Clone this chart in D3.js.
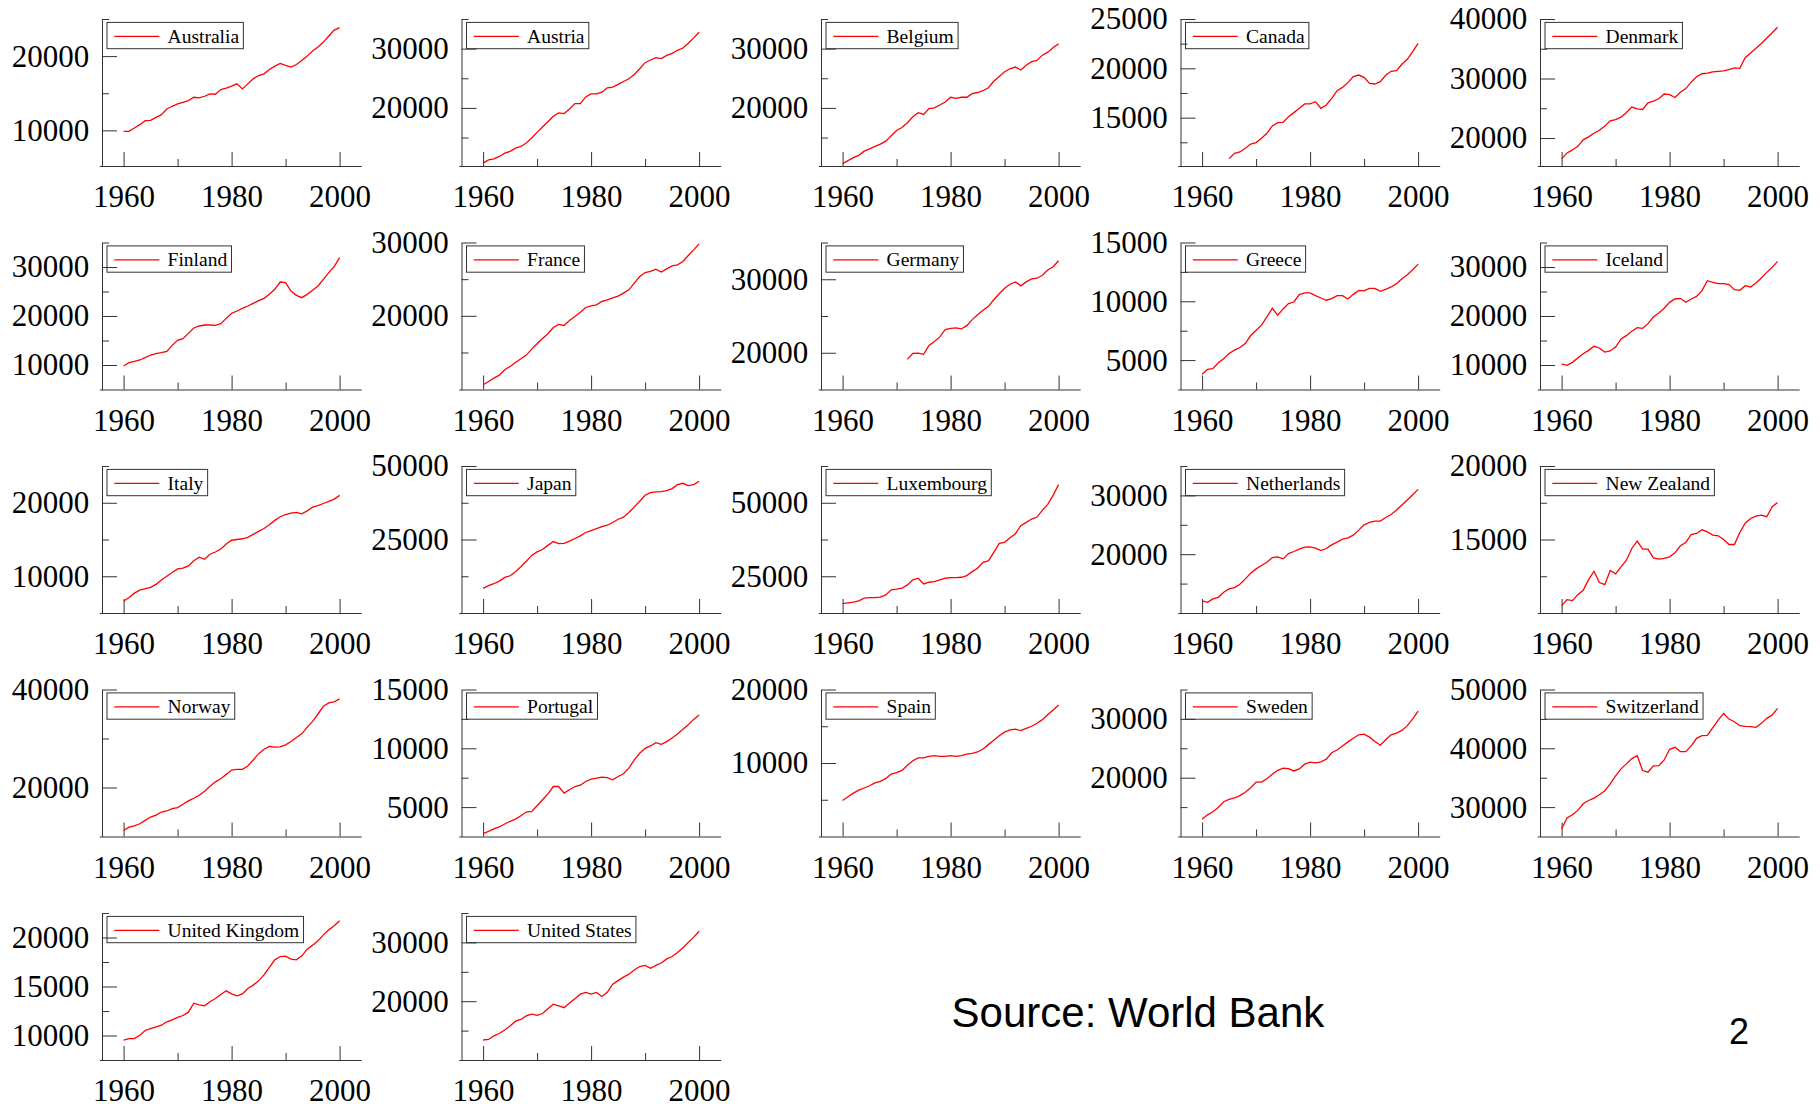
<!DOCTYPE html>
<html lang="en">
<head>
<meta charset="utf-8">
<script src="https://d3js.org/d3.v7.min.js"></script>
<style>
  body { margin: 0; background: #fff; }
  svg { display: block; }
  .series { fill: none; stroke: #ff0000; stroke-width: 1.3px; }
  .tick text { font-family: "Liberation Serif", "Times New Roman", serif; font-size: 31px; fill: #000; }
  .legend text { font-family: "Liberation Serif", "Times New Roman", serif; font-size: 19.5px; fill: #000; }
  .note { font-family: "Liberation Sans", Arial, sans-serif; fill: #000; }
</style>
</head>
<body>
<svg id="chart" width="1820" height="1104"></svg>
<script>
// data: GDP per capita
var years = [1960, 1961, 1962, 1963, 1964, 1965, 1966, 1967, 1968, 1969,
             1970, 1971, 1972, 1973, 1974, 1975, 1976, 1977, 1978, 1979,
             1980, 1981, 1982, 1983, 1984, 1985, 1986, 1987, 1988, 1989,
             1990, 1991, 1992, 1993, 1994, 1995, 1996, 1997, 1998, 1999, 2000];

var countries = ["Australia", "Austria", "Belgium", "Canada", "Denmark",
                 "Finland", "France", "Germany", "Greece", "Iceland",
                 "Italy", "Japan", "Luxembourg", "Netherlands", "New Zealand",
                 "Norway", "Portugal", "Spain", "Sweden", "Switzerland",
                 "United Kingdom", "United States"];

var australia = [9865, 9865, 10315, 10766, 11306, 11351, 11757, 12117, 12883, 13243,
                 13559, 13784, 14009, 14459, 14369, 14595, 14910, 14865, 15495, 15676,
                 15946, 16261, 15586, 16261, 16937, 17387, 17613, 18198, 18649, 19009,
                 18739, 18514, 18874, 19414, 20000, 20676, 21216, 21892, 22703, 23514, 23829];
var austria = [10680, 11240, 11410, 11810, 12370, 12660, 13220, 13500, 14070, 14920,
               15880, 16780, 17680, 18590, 19150, 19040, 19830, 20730, 20730, 21860,
               22370, 22370, 22660, 23390, 23500, 23960, 24460, 24920, 25650, 26610,
               27630, 28080, 28480, 28310, 28870, 29210, 29720, 30110, 30900, 31810, 32770];
var belgium = [10600, 11100, 11600, 12000, 12700, 13100, 13500, 13900, 14400, 15300,
               16200, 16700, 17500, 18500, 19200, 18900, 19900, 20000, 20500, 21000,
               21800, 21600, 21800, 21800, 22400, 22600, 22900, 23400, 24500, 25300,
               26100, 26600, 26900, 26400, 27200, 27800, 28000, 28900, 29400, 30200, 30800];
var canada = [null, null, null, null, null, 10850, 11390, 11520, 11890, 12330,
              12470, 12910, 13410, 14160, 14490, 14530, 15100, 15510, 15950, 16390,
              16390, 16620, 15950, 16280, 16960, 17740, 18070, 18550, 19160, 19320,
              19090, 18480, 18410, 18650, 19290, 19700, 19760, 20410, 20910, 21690, 22530];
var denmark = [16500, 17500, 18000, 18600, 19700, 20200, 20800, 21300, 22000, 22900,
               23100, 23500, 24300, 25200, 24900, 24800, 25900, 26200, 26600, 27400,
               27300, 26800, 27700, 28300, 29400, 30300, 30800, 30900, 31100, 31200,
               31300, 31500, 31800, 31700, 33500, 34300, 35100, 35900, 36800, 37700, 38600];
var finland = [9800, 10480, 10750, 11020, 11500, 12040, 12310, 12520, 12790, 14010,
               15030, 15370, 16460, 17550, 17960, 18160, 18160, 18100, 18440, 19520,
               20540, 21020, 21570, 22040, 22590, 23130, 23610, 24420, 25440, 26940,
               26800, 25100, 24220, 23740, 24420, 25240, 26120, 27480, 28840, 30070, 31910];
var france = [10590, 11050, 11500, 11910, 12640, 13090, 13640, 14140, 14640, 15460,
              16180, 16910, 17550, 18410, 18820, 18680, 19360, 19910, 20500, 21140,
              21360, 21500, 21960, 22180, 22460, 22680, 23090, 23550, 24460, 25360,
              25910, 26050, 26360, 25960, 26410, 26820, 26960, 27410, 28230, 29000, 29820];
var germany = [null, null, null, null, null, null, null, null, null, null,
               null, null, 19100, 19910, 19960, 19780, 20990, 21530, 22160, 23150,
               23330, 23380, 23240, 23690, 24510, 25180, 25770, 26310, 27210, 28020,
               28780, 29320, 29640, 29100, 29640, 30050, 30140, 30540, 31260, 31710, 32520];
var greece = [3790, 4210, 4270, 4770, 5110, 5570, 5850, 6070, 6410, 7090,
              7540, 7970, 8670, 9410, 8810, 9350, 9800, 9940, 10570, 10710,
              10710, 10480, 10280, 10090, 10230, 10480, 10480, 10200, 10590, 10930,
              10880, 11100, 11100, 10850, 11020, 11220, 11500, 11920, 12260, 12680, 13160];
var iceland = [10200, 9930, 10540, 11430, 12310, 12990, 13810, 13470, 12650, 12860,
               13670, 15310, 15990, 16870, 17620, 17480, 18440, 19800, 20610, 21570,
               22790, 23470, 23610, 22790, 23470, 24010, 25170, 27210, 26870, 26600,
               26600, 26400, 25370, 25240, 26190, 25920, 26740, 27760, 28910, 29930, 31160];
var italy = [6600, 7100, 7700, 8100, 8300, 8500, 8900, 9500, 10000, 10500,
             11000, 11100, 11400, 12100, 12600, 12300, 13000, 13300, 13700, 14400,
             14900, 15000, 15100, 15300, 15700, 16100, 16500, 17000, 17600, 18100,
             18400, 18600, 18700, 18500, 18900, 19400, 19600, 19900, 20200, 20500, 21000];
var japan = [8370, 9280, 9960, 10860, 12100, 12670, 14030, 15720, 17600, 19600,
             20800, 21600, 23000, 24300, 23600, 23700, 24430, 25340, 26240, 27380,
             28050, 28730, 29410, 29860, 30770, 31900, 32580, 34160, 36090, 38010,
             40050, 40950, 41180, 41290, 41630, 42310, 43670, 44120, 43330, 43670, 44800];
var luxembourg = [15720, 15950, 16180, 16630, 17530, 17760, 17760, 17870, 18670, 20360,
                  20590, 20930, 22060, 23760, 24320, 22400, 22960, 23190, 23760, 24320,
                  24550, 24550, 24660, 25230, 26580, 27720, 29750, 30200, 33150, 36200,
                  36540, 38120, 39480, 42200, 43330, 44460, 45140, 47510, 49430, 52600, 56220];
var netherlands = [12050, 11820, 12390, 12670, 13520, 14090, 14320, 14890, 15800, 16760,
                   17500, 18070, 18640, 19430, 19550, 19210, 20110, 20460, 20850, 21190,
                   21250, 21020, 20630, 20970, 21590, 22050, 22560, 22780, 23240, 24090,
                   25000, 25400, 25630, 25630, 26250, 26760, 27500, 28350, 29210, 30110, 31020];
var newZealand = [10480, 10910, 10840, 11250, 11550, 12270, 12840, 12070, 11930, 12890,
                  12660, 13140, 13590, 14390, 14890, 14340, 14340, 13750, 13660, 13710,
                  13820, 14090, 14570, 14800, 15340, 15410, 15660, 15520, 15300, 15250,
                  15000, 14660, 14660, 15480, 16110, 16430, 16590, 16660, 16550, 17230, 17520];
var norway = [11230, 11920, 12190, 12600, 13290, 13970, 14380, 15000, 15210, 15690,
              15890, 16580, 17260, 17810, 18430, 19250, 20270, 21160, 21780, 22670,
              23560, 23700, 23700, 24380, 25620, 26850, 27810, 28360, 28220, 28290,
              28700, 29380, 30210, 30960, 32330, 33490, 35000, 36580, 37260, 37470, 38080];
var portugal = [2740, 2940, 3140, 3310, 3560, 3790, 3980, 4270, 4580, 4630,
                5110, 5620, 6130, 6750, 6750, 6190, 6470, 6750, 6860, 7180,
                7370, 7460, 7540, 7510, 7320, 7600, 7830, 8310, 9010, 9580,
                10000, 10200, 10480, 10340, 10570, 10880, 11220, 11610, 12010, 12460, 12830];
var spain = [4900, 5400, 5900, 6300, 6600, 6900, 7300, 7500, 7900, 8500,
             8700, 9000, 9700, 10300, 10700, 10700, 10900, 11000, 10900, 10900,
             11000, 10900, 11000, 11200, 11300, 11500, 11900, 12500, 13100, 13700,
             14200, 14500, 14600, 14400, 14700, 15000, 15400, 15900, 16600, 17200, 17900];
var sweden = [12930, 13680, 14200, 14940, 15920, 16320, 16550, 16950, 17530, 18280,
              19250, 19250, 19830, 20580, 21260, 21610, 21550, 21150, 21490, 22300,
              22640, 22530, 22700, 23160, 24250, 24710, 25400, 26090, 26720, 27300,
              27410, 26900, 26150, 25520, 26440, 27300, 27590, 28050, 28850, 30000, 31320];
var switzerland = [26270, 28140, 28700, 29440, 30570, 31130, 31530, 32090, 32770, 33960,
                   35310, 36500, 37350, 38250, 38760, 36220, 35930, 37010, 37060, 38020,
                   39830, 40170, 39440, 39440, 40400, 41700, 42150, 42200, 43500, 44800,
                   45930, 44970, 44520, 43840, 43730, 43670, 43560, 44240, 45090, 45650, 46780];
var unitedKingdom = [9520, 9690, 9690, 10030, 10510, 10710, 10880, 11050, 11400, 11600,
                     11840, 12040, 12380, 13300, 13130, 13030, 13440, 13780, 14180, 14560,
                     14250, 14050, 14250, 14800, 15140, 15580, 16190, 16940, 17720, 18060,
                     18100, 17790, 17720, 18130, 18810, 19220, 19660, 20270, 20780, 21190, 21700];
var unitedStates = [13400, 13500, 14100, 14500, 15100, 15800, 16600, 16900, 17500, 17800,
                    17600, 17900, 18700, 19500, 19200, 18900, 19700, 20400, 21200, 21500,
                    21200, 21500, 20800, 21500, 22900, 23500, 24100, 24600, 25300, 25900,
                    26100, 25600, 26100, 26500, 27200, 27600, 28300, 29100, 30000, 30900, 31900];

var seriesValues = [australia, austria, belgium, canada, denmark,
                    finland, france, germany, greece, iceland,
                    italy, japan, luxembourg, netherlands, newZealand,
                    norway, portugal, spain, sweden, switzerland,
                    unitedKingdom, unitedStates];

// y axis range of each panel
var yDomains = [[5200, 25000], [10200, 35000], [10200, 35000], [10100, 25000], [15300, 40000],
                [5000, 35000], [9950, 30000], [15000, 35000], [2500, 15000], [5000, 35000],
                [5000, 25000], [0, 50000], [12500, 62500], [10000, 35000], [10000, 20000],
                [10000, 40000], [2500, 15000], [0, 20000], [10000, 35000], [25000, 50000],
                [7500, 22500], [10000, 35000]];
// labelled ticks
var majorTicks = [[10000, 20000], [20000, 30000], [20000, 30000], [15000, 20000, 25000], [20000, 30000, 40000],
                  [10000, 20000, 30000], [20000, 30000], [20000, 30000], [5000, 10000, 15000], [10000, 20000, 30000],
                  [10000, 20000], [25000, 50000], [25000, 50000], [20000, 30000], [15000, 20000],
                  [20000, 40000], [5000, 10000, 15000], [10000, 20000], [20000, 30000], [30000, 40000, 50000],
                  [10000, 15000, 20000], [20000, 30000]];
// unlabelled short ticks
var minorTicks = [[15000, 25000], [15000, 25000, 35000], [15000, 25000, 35000], [12500, 17500, 22500], [25000, 35000],
                  [15000, 25000, 35000], [15000, 25000], [25000, 35000], [7500, 12500], [15000, 25000, 35000],
                  [15000, 25000], [12500, 37500], [37500, 62500], [15000, 25000, 35000], [12500, 17500],
                  [30000], [7500, 12500], [5000, 15000], [15000, 25000, 35000], [35000, 45000],
                  [12500, 17500, 22500], [15000, 25000, 35000]];
var xMajor = [1960, 1980, 2000];
var xMinor = [1970, 1990];

// layout
var ncol = 5;
var colStep = 359.5;
var rowStep = 223.5;
var left0 = 102;
var axis0 = 166;
var plotH = 147;

var svg = d3.select("#chart");

countries.forEach(function(name, i) {
  var col = i % ncol;
  var row = Math.floor(i / ncol);
  var g = svg.append("g")
      .attr("transform", "translate(" + (left0 + col * colStep) + "," + (axis0 + row * rowStep - plotH) + ")");

  var x = d3.scaleLinear().domain([1955.5, 2004]).range([-2.7, 259.2]);
  var y = d3.scaleLinear().domain(yDomains[i]).range([plotH, 0]);

  // x axis
  var gx = g.append("g")
      .attr("transform", "translate(0," + plotH + ")")
      .attr("color", "#333")
      .call(d3.axisBottom(x).tickValues(xMajor).tickSize(-14).tickSizeOuter(0)
            .tickPadding(19).tickFormat(d3.format("d")));
  gx.append("g").call(d3.axisBottom(x).tickValues(xMinor).tickSize(-7).tickFormat(""))
      .select(".domain").remove();

  // y axis
  var gy = g.append("g")
      .attr("color", "#333")
      .call(d3.axisLeft(y).tickValues(majorTicks[i]).tickSize(-15).tickSizeOuter(0)
            .tickPadding(12.7).tickFormat(d3.format("d")));
  gy.append("g").call(d3.axisLeft(y).tickValues(minorTicks[i]).tickSize(-7).tickFormat(""))
      .select(".domain").remove();

  // series line
  var line = d3.line()
      .defined(function(d) { return d != null; })
      .x(function(d, j) { return x(years[j]); })
      .y(function(d) { return y(d); });

  g.append("path")
      .datum(seriesValues[i])
      .attr("class", "series")
      .attr("d", line);

  // legend
  var lg = g.append("g").attr("class", "legend").attr("transform", "translate(5,3.4)");
  var box = lg.append("rect")
      .attr("height", 26.3)
      .attr("fill", "none")
      .attr("stroke", "#333")
      .attr("stroke-width", 1);
  lg.append("line")
      .attr("x1", 7.3).attr("x2", 52.3)
      .attr("y1", 14).attr("y2", 14)
      .attr("stroke", "#ff0000")
      .attr("stroke-width", 1.3);
  var t = lg.append("text").attr("x", 60.6).attr("y", 20.6).text(name);
  box.attr("width", 60.6 + t.node().getComputedTextLength() + 4.3);
});

svg.append("text")
    .attr("class", "note")
    .attr("x", 951.6)
    .attr("y", 1027)
    .attr("font-size", 42)
    .text("Source: World Bank");

svg.append("text")
    .attr("class", "note")
    .attr("x", 1729)
    .attr("y", 1044)
    .attr("font-size", 36)
    .text("2");
</script>
</body>
</html>
